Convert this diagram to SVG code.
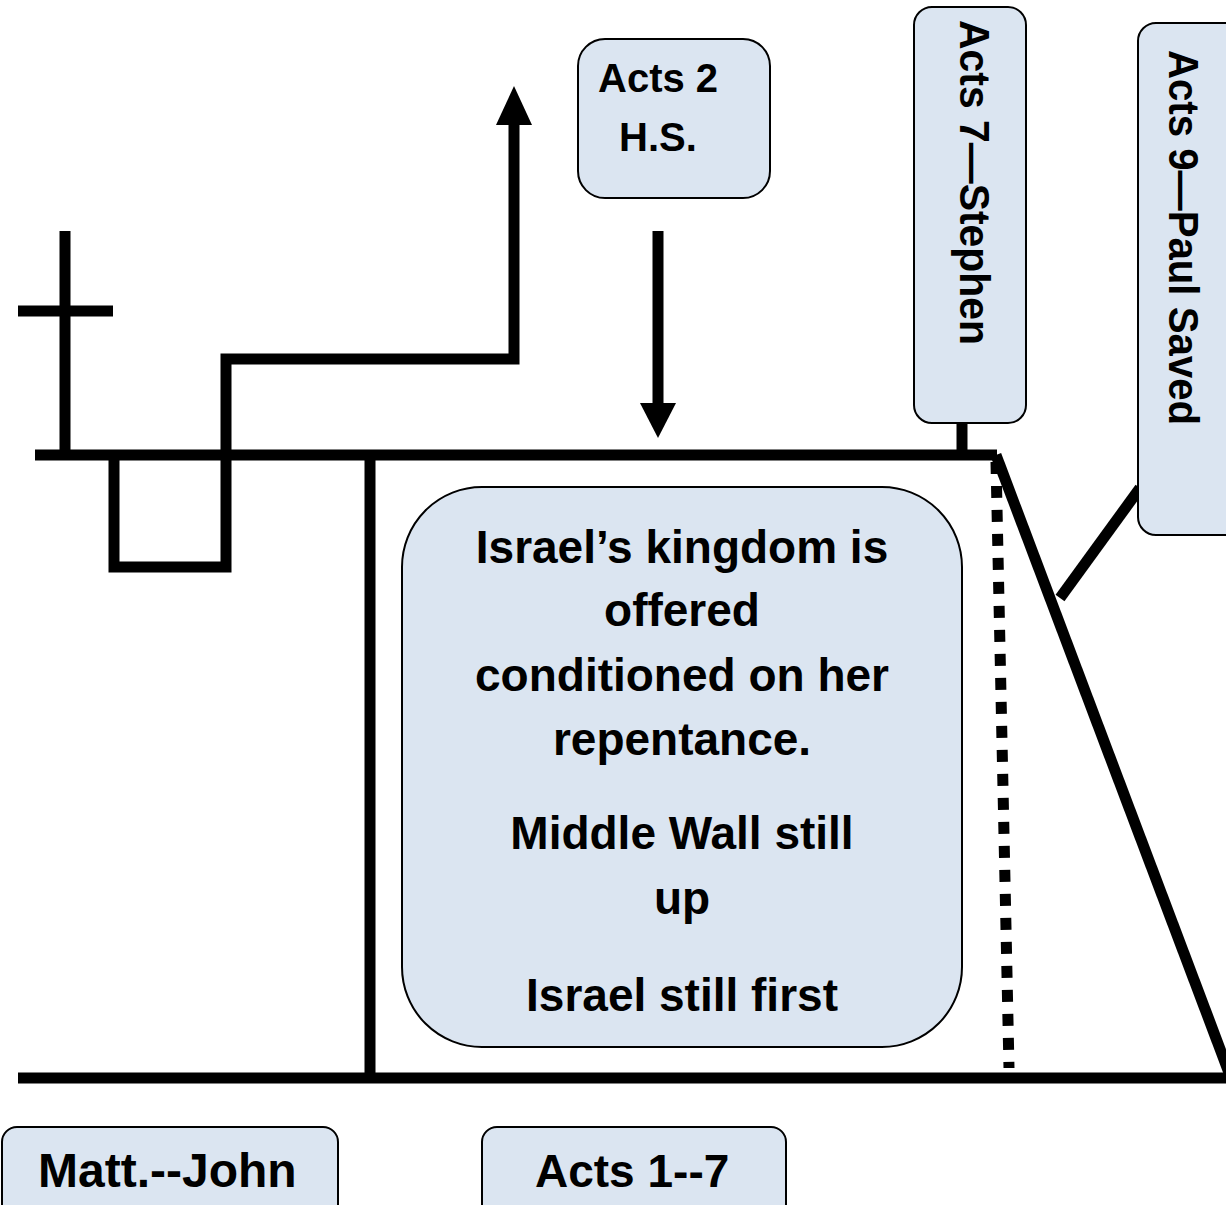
<svg xmlns="http://www.w3.org/2000/svg" width="1226" height="1205" viewBox="0 0 1226 1205">
<style>
.box{fill:#dbe5f1;stroke:#000;stroke-width:2}
.t{font-family:"Liberation Sans",Arial,sans-serif;font-weight:bold;fill:#000}
.ln{stroke:#000;stroke-width:11;fill:none}
</style>
<rect width="1226" height="1205" fill="#fff"/>
<g id="connectors">
  <line class="ln" x1="35" y1="455" x2="997" y2="455"/>
  <line class="ln" x1="18" y1="1078" x2="1226" y2="1078"/>
  <line class="ln" x1="370" y1="455" x2="370" y2="1078"/>
  <line class="ln" x1="65" y1="231" x2="65" y2="455"/>
  <line class="ln" x1="18" y1="311" x2="113" y2="311"/>
  <path class="ln" d="M114 455 V567 H226 V359 H514 V118" stroke-linejoin="miter"/>
  <polygon points="514,86 496,125 532,125" fill="#000"/>
  <line class="ln" x1="658" y1="231" x2="658" y2="406"/>
  <polygon points="658,438 640,403 676,403" fill="#000"/>
  <line class="ln" x1="962" y1="423" x2="962" y2="455"/>
  <line class="ln" x1="996" y1="455" x2="1231" y2="1078"/>
  <line class="ln" x1="996" y1="462" x2="1009" y2="1068" stroke-dasharray="12 12"/>
  <line class="ln" x1="1140" y1="488" x2="1060" y2="598"/>
</g>
<g id="acts2">
  <rect class="box" x="578" y="39" width="192" height="159" rx="27"/>
  <text class="t" x="598" y="92" font-size="40">Acts 2</text>
  <text class="t" x="619" y="151" font-size="40">H.S.</text>
</g>
<g id="acts7">
  <rect class="box" x="914" y="7" width="112" height="416" rx="18"/>
  <text class="t" font-size="42" transform="translate(960,20) rotate(90)" textLength="325" lengthAdjust="spacingAndGlyphs">Acts 7—Stephen</text>
</g>
<g id="acts9">
  <rect class="box" x="1138" y="23" width="110" height="512" rx="18"/>
  <text class="t" font-size="42" transform="translate(1169,50) rotate(90)" textLength="375" lengthAdjust="spacingAndGlyphs">Acts 9—Paul Saved</text>
</g>
<g id="kingdom">
  <rect class="box" x="402" y="487" width="560" height="560" rx="80"/>
  <g class="t" font-size="46" text-anchor="middle">
    <text x="682" y="563">Israel’s kingdom is</text>
    <text x="682" y="626">offered</text>
    <text x="682" y="691">conditioned on her</text>
    <text x="682" y="755">repentance.</text>
    <text x="682" y="849">Middle Wall still</text>
    <text x="682" y="914">up</text>
    <text x="682" y="1011">Israel still first</text>
  </g>
</g>
<g id="matt">
  <rect class="box" x="2" y="1127" width="336" height="95" rx="15"/>
  <text class="t" x="38" y="1187" font-size="48">Matt.--John</text>
</g>
<g id="acts17">
  <rect class="box" x="482" y="1127" width="304" height="95" rx="15"/>
  <text class="t" x="535" y="1187" font-size="46">Acts 1--7</text>
</g>
</svg>
